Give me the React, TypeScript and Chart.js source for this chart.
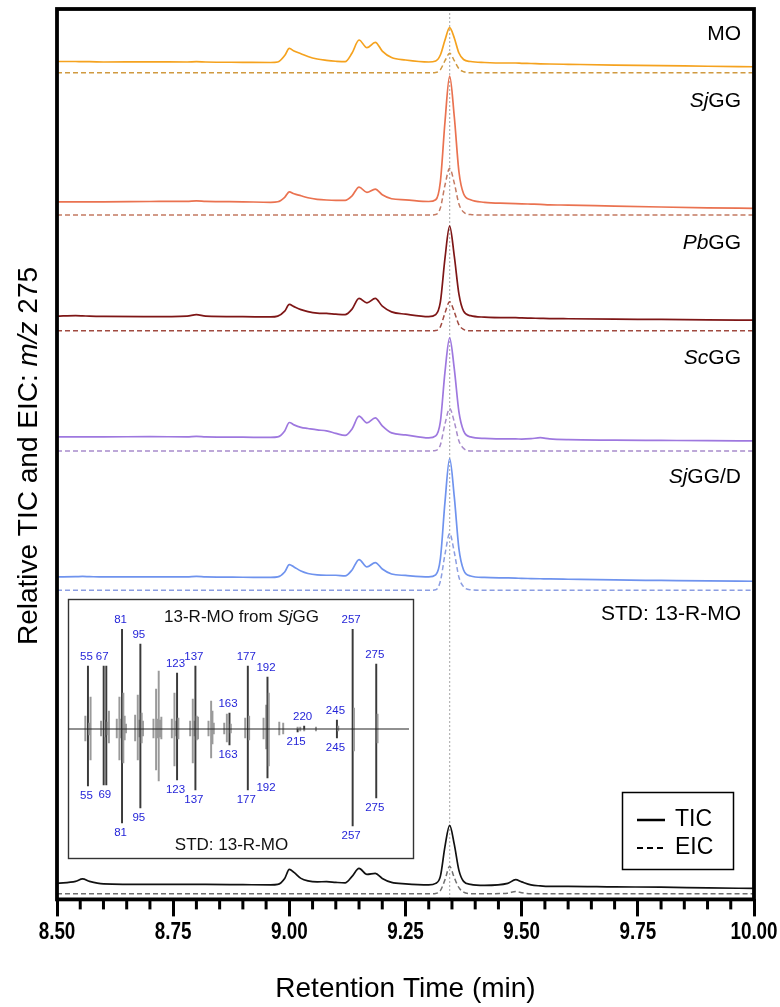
import React, { useEffect, useRef } from 'react';
import { Chart, registerables } from 'chart.js';

Chart.register(...registerables);

// ---------------- Chromatogram data ----------------
const retentionTimes = [
  8.5, 8.54, 8.555, 8.57, 8.6, 8.7, 8.78, 8.8, 8.82, 8.9, 8.96, 8.975, 8.99, 9.0, 9.01, 9.025, 9.04,
  9.06, 9.08, 9.1, 9.12, 9.135, 9.15, 9.167, 9.185, 9.2, 9.22, 9.25, 9.3, 9.315, 9.325, 9.335, 9.345,
  9.355, 9.365, 9.375, 9.39, 9.42, 9.47, 9.487, 9.5, 9.52, 9.54, 9.56, 9.6, 9.7, 9.8, 9.9, 10.0,
];
const peakRT = 9.345;

const sampleNames = ['MO', 'SjGG', 'PbGG', 'ScGG', 'SjGG/D', 'STD: 13-R-MO'];
const italicPrefixLen = [0, 2, 2, 2, 2, 0];
const ticOffsets = [837, 697.3, 583, 462.3, 322.3, 15];
const eicOffsets = [826.3, 684, 568.3, 448.3, 309, 5.7];

const ticMO = [0.5, 0.5, 0.3, 0.3, 0, 0.2, 0, 0.3, 0, -0.3, -0.5, 0, 6.5, 13.7, 11, 8.3, 5.5, 3, 1.7, 0.8, 0.3, 9, 22, 14.3, 19.7, 11, 4.5, 2, 0, 1, 7, 22, 34.3, 24, 9, 2.5, 0.5, -0.5, -1, -1, -1.3, -1.5, -1.8, -2, -2.3, -3, -3.5, -4.2, -4.7];
const eicMO = [0, 0, 0, 0, 0, 0, 0, 0, 0, 0, 0, 0, 0, 0, 0, 0, 0, 0, 0, 0, 0, 0, 0, 0, 0, 0, 0, 0, 0, 0.3, 3, 12, 19.4, 12, 4, 1, 0, 0, 0, 0, 0, 0, 0, 0, 0, 0, 0, 0, 0];
const ticSjGG = [0, 0, 0, 0, 0, 0.3, 0.5, 1, 0.5, 0, -0.5, 0, 4.5, 10, 8, 6, 4, 2.5, 1.8, 1.5, 1.5, 6, 14.7, 9.4, 12.7, 7, 3, 2, 0.3, 2, 20, 80, 125.7, 85, 30, 8, 2, -0.5, -1.5, -1.8, -2, -2.3, -2.6, -3, -3.3, -4.3, -5.2, -6, -6.6];
const eicSjGG = [0, 0, 0, 0, 0, 0, 0, 0, 0, 0, 0, 0, 0, 0, 0, 0, 0, 0, 0, 0, 0, 0, 0, 0, 0, 0, 0, 0, 0, 0.5, 7, 30, 46.7, 32, 11, 3, 0.5, 0, 0, 0, 0, 0, 0, 0, 0, 0, 0, 0, 0];
const ticPbGG = [0, 0.5, 0.3, 0, -0.3, -0.5, 0, 1.5, 0, -0.5, -0.8, 0, 5, 11.7, 9.5, 6.5, 4.5, 3, 2.7, 2, 1.5, 7, 17.7, 13.3, 17.7, 10, 4.3, 2, -0.5, 1.5, 14, 58, 90, 60, 22, 5, 0.5, -1, -1.5, -1.5, -1.8, -2, -2.2, -2.4, -2.6, -3, -3.3, -3.7, -4];
const eicPbGG = [0, 0, 0, 0, 0, 0, 0, 0, 0, 0, 0, 0, 0, 0, 0, 0, 0, 0, 0, 0, 0, 0, 0, 0, 0, 0, 0, 0, 0, 0.3, 4, 18, 29, 19, 6, 1.5, 0, 0, 0, 0, 0, 0, 0, 0, 0, 0, 0, 0, 0];
const ticScGG = [0, 0, 0, 0, 0, 0.3, 0, 0.5, 0, -0.3, -0.5, 0, 6, 14.4, 12, 9.5, 8.4, 7, 6, 3.5, 1.5, 8, 20.7, 14, 19, 11, 4, 2, -1, 1, 15, 65, 99, 68, 25, 6, 0, -1.5, -2, -2, -2.2, -1.8, -0.8, -2, -2.8, -3.2, -3.5, -3.8, -4];
const eicScGG = [0, 0, 0, 0, 0, 0, 0, 0, 0, 0, 0, 0, 0, 0, 0, 0, 0, 0, 0, 0, 0, 0, 0, 0, 0, 0, 0, 0, 0, 0.5, 6, 27, 42.4, 29, 10, 2.5, 0, 0, 0, 0, 0, 0, 0, 0, 0, 0, 0, 0, 0];
const ticSjGGD = [0, 0.3, 0.5, 0.3, 0, 0, 0, 0.5, 0, -0.3, -0.5, 0, 5, 12.4, 10, 6, 3.5, 2, 1.7, 1.7, 1, 7, 17.4, 10, 14.4, 8, 3, 1.5, 0, 2, 18, 75, 118.4, 80, 28, 7, 1, -0.5, -1, -1.2, -1.4, -1.6, -1.8, -2, -2.3, -3, -3.5, -4, -4.3];
const eicSjGGD = [0, 0, 0, 0, 0, 0, 0, 0, 0, 0, 0, 0, 0, 0, 0, 0, 0, 0, 0, 0, 0, 0, 0, 0, 0, 0, 0, 0, 0, 0.5, 9, 36, 56.7, 38, 13, 3.5, 0.5, 0, 0, 0, 0, 0, 0, 0, 0, 0, 0, 0, 0];
const ticSTD = [1, 3, 5.5, 3, 0.5, 0, 0, 0, 0, -0.3, -0.5, 0, 6, 15, 12, 6, 3.5, 2.5, 2.8, 2, 1.5, 8, 16, 10, 11, 6, 2, 0.5, -0.5, 1, 8, 38, 59, 40, 14, 3, 0, -1, 1, 4.7, 2.5, -0.5, -1.5, -2, -2, -2.5, -2.8, -3.5, -4];
const eicSTD = [0, 0, 0, 0, 0, 0, 0, 0, 0, 0, 0, 0, 0, 0, 0, 0, 0, 0, 0, 0, 0, 0, 0, 0, 0, 0, 0, 0, 0, 0.3, 3, 14, 27.3, 16, 6, 1.5, 0, 0, 0.5, 2.3, 1, 0, 0, 0, 0, 0, 0, 0, 0];

const ticSeries = [ticMO, ticSjGG, ticPbGG, ticScGG, ticSjGGD, ticSTD];
const eicSeries = [eicMO, eicSjGG, eicPbGG, eicScGG, eicSjGGD, eicSTD];

// ---------------- Mass spectrum (inset) data ----------------
const msMz = [53, 55, 56, 57, 65, 67, 68, 69, 70, 71, 77, 79, 80, 81, 82, 83, 84, 91, 93, 94, 95, 96, 97, 105, 107, 108, 109, 110, 111, 119, 121, 122, 123, 124, 133, 135, 136, 137, 138, 139, 147, 149, 150, 151, 159, 161, 163, 164, 175, 177, 178, 189, 191, 192, 193, 201, 204, 215, 217, 220, 229, 245, 246, 257, 258, 275, 276];
const msSample = [13, 63, 6, 32, 8, 63, 9, 63, 7, 18, 10, 32, 10, 100, 36, 13, 5, 14, 34, 9, 85, 16, 8, 10, 40, 10, 58, 9, 12, 10, 36, 8, 56, 11, 8, 30, 8, 63, 13, 12, 8, 28, 18, 6, 6, 15, 16, 5, 11, 63, 13, 11, 24, 52, 36, 7, 6, 2, 2, 3, 2, 9, 3, 100, 21, 65, 15];
const msStd = [12, 57, 6, 31, 7, 56, 8, 56, 6, 14, 9, 31, 9, 94, 34, 11, 4, 12, 31, 8, 79, 14, 7, 9, 41, 9, 52, 8, 10, 9, 37, 7, 51, 10, 7, 34, 7, 61, 11, 10, 7, 29, 15, 5, 5, 13, 16, 4, 9, 61, 11, 10, 20, 49, 37, 6, 5, 3, 2, 2, 2, 9, 2, 97, 22, 69, 14];
const msTopLabels = [55, 67, 81, 95, 123, 137, 163, 177, 192, 220, 245, 257, 275];
const msBottomLabels = [55, 69, 81, 95, 123, 137, 163, 177, 192, 215, 245, 257, 275];

// ---------------- Styles ----------------
const FONT = '"Liberation Sans", Arial, Helvetica, sans-serif';
const ticColors = ['#F5A21E', '#EA7250', '#7E1616', '#9E78DF', '#6F93EE', '#111111'];
const eicColors = ['#D09A40', '#C47A62', '#A04A40', '#A88CCB', '#8C9EE2', '#707070'];
const labelY = [34, 101, 243, 358, 477, 614];
const labelRight = 741;

type Seg = { text: string; italic?: boolean };

function drawRich(ctx: CanvasRenderingContext2D, segs: Seg[], x: number, y: number, size: number, family: string, align: 'left' | 'center' | 'right') {
  const fontFor = (s: Seg) => `${s.italic ? 'italic ' : ''}normal ${size}px ${family}`;
  let total = 0;
  const widths = segs.map((s) => {
    ctx.font = fontFor(s);
    const w = ctx.measureText(s.text).width;
    total += w;
    return w;
  });
  let cx = align === 'left' ? x : align === 'center' ? x - total / 2 : x - total;
  ctx.textAlign = 'left';
  ctx.textBaseline = 'middle';
  segs.forEach((s, i) => {
    ctx.font = fontFor(s);
    ctx.fillText(s.text, cx, y);
    cx += widths[i];
  });
}

const isMajor = (v: number) => Math.abs(v * 4 - Math.round(v * 4)) < 1e-6;

const mainDecor = {
  id: 'mainDecor',
  beforeDatasetsDraw(chart: any) {
    const { ctx, chartArea, scales } = chart;
    const x = scales.x.getPixelForValue(peakRT);
    ctx.save();
    ctx.strokeStyle = '#b5b5b5';
    ctx.lineWidth = 1.2;
    ctx.setLineDash([2, 2]);
    ctx.beginPath();
    ctx.moveTo(x, chartArea.top);
    ctx.lineTo(x, chartArea.bottom);
    ctx.stroke();
    ctx.restore();
  },
  afterDraw(chart: any) {
    const { ctx, chartArea, scales } = chart;
    const { left, right, top, bottom } = chartArea;
    ctx.save();
    // minor ticks + condensed bold tick labels
    ctx.strokeStyle = '#000';
    ctx.fillStyle = '#000';
    ctx.lineWidth = 3;
    scales.x.ticks.forEach((t: any) => {
      const x = scales.x.getPixelForValue(t.value);
      if (isMajor(t.value)) {
        ctx.save();
        ctx.translate(x, 933);
        ctx.scale(0.82, 1);
        ctx.font = `bold 23px ${FONT}`;
        ctx.textAlign = 'center';
        ctx.textBaseline = 'middle';
        ctx.fillText(Number(t.value).toFixed(2), 0, 0);
        ctx.restore();
        return;
      }
      ctx.beginPath();
      ctx.moveTo(x, bottom);
      ctx.lineTo(x, bottom + 10);
      ctx.stroke();
    });
    // frame
    ctx.lineWidth = 3.8;
    ctx.strokeRect(left, top, right - left, bottom - top);

    // sample labels
    ctx.fillStyle = '#000';
    sampleNames.forEach((name, i) => {
      const n = italicPrefixLen[i];
      const segs: Seg[] = n > 0 ? [{ text: name.slice(0, n), italic: true }, { text: name.slice(n) }] : [{ text: name }];
      drawRich(ctx, segs, labelRight, labelY[i], 21, FONT, 'right');
    });

    // y title
    ctx.save();
    ctx.translate(29, 456);
    ctx.rotate(-Math.PI / 2);
    drawRich(ctx, [{ text: 'Relative TIC and EIC: ' }, { text: 'm/z', italic: true }, { text: ' 275' }], 0, 0, 28, FONT, 'center');
    ctx.restore();

    // legend
    ctx.lineWidth = 1.5;
    ctx.strokeStyle = '#000';
    ctx.setLineDash([]);
    ctx.strokeRect(622.5, 792.5, 111, 77);
    ctx.lineWidth = 2.5;
    ctx.beginPath();
    ctx.moveTo(637, 820);
    ctx.lineTo(665, 820);
    ctx.stroke();
    ctx.setLineDash([6, 4]);
    ctx.lineWidth = 2;
    ctx.beginPath();
    ctx.moveTo(637, 848);
    ctx.lineTo(665, 848);
    ctx.stroke();
    ctx.setLineDash([]);
    drawRich(ctx, [{ text: 'TIC' }], 675, 820, 23, FONT, 'left');
    drawRich(ctx, [{ text: 'EIC' }], 675, 848, 23, FONT, 'left');
    ctx.restore();
  },
};

const insetDecor = {
  id: 'insetDecor',
  beforeDraw(chart: any) {
    const { ctx, width, height } = chart;
    ctx.save();
    ctx.fillStyle = '#fff';
    ctx.fillRect(0, 0, width, height);
    ctx.restore();
  },
  afterDatasetsDraw(chart: any) {
    const { ctx, chartArea, scales, width, height } = chart;
    const xs = scales.x;
    const ys = scales.y;
    ctx.save();
    ctx.strokeStyle = '#333';
    ctx.lineWidth = 1.4;
    ctx.strokeRect(1.5, 1.5, width - 3, height - 3);
    // baseline
    const y0 = ys.getPixelForValue(0);
    ctx.strokeStyle = '#222';
    ctx.lineWidth = 1.2;
    ctx.beginPath();
    ctx.moveTo(chartArea.left, y0);
    ctx.lineTo(chartArea.right, y0);
    ctx.stroke();
    // labels
    ctx.fillStyle = '#2424d8';
    ctx.font = `normal 11.5px ${FONT}`;
    ctx.textAlign = 'center';
    ctx.textBaseline = 'middle';
    msTopLabels.forEach((m) => {
      const i = msMz.indexOf(m);
      const x = xs.getPixelForValue(m) - 1.5;
      const y = ys.getPixelForValue(msSample[i]) - 9.5;
      ctx.fillText(String(m), x, y);
    });
    msBottomLabels.forEach((m) => {
      const i = msMz.indexOf(m);
      const x = xs.getPixelForValue(m) - 1.5;
      const y = ys.getPixelForValue(-msStd[i]) + 9.5;
      ctx.fillText(String(m), x, y);
    });
    ctx.fillStyle = '#111';
    drawRich(ctx, [{ text: '13-R-MO from ' }, { text: 'Sj', italic: true }, { text: 'GG' }], 174.5, 19, 17, FONT, 'center');
    drawRich(ctx, [{ text: 'STD: 13-R-MO' }], 164.5, 247, 17, FONT, 'center');
    ctx.restore();
  },
};

export default function App() {
  const mainRef = useRef<HTMLCanvasElement>(null);
  const insetRef = useRef<HTMLCanvasElement>(null);

  useEffect(() => {
    const datasets: any[] = [];
    sampleNames.forEach((_, s) => {
      datasets.push({
        label: sampleNames[s] + ' TIC',
        data: retentionTimes.map((t, i) => ({ x: t, y: ticOffsets[s] + ticSeries[s][i] })),
        borderColor: ticColors[s],
        borderWidth: 1.7,
        pointRadius: 0,
        cubicInterpolationMode: 'monotone',
        fill: false,
      });
      datasets.push({
        label: sampleNames[s] + ' EIC',
        data: retentionTimes.map((t, i) => ({ x: t, y: eicOffsets[s] + eicSeries[s][i] })),
        borderColor: eicColors[s],
        borderWidth: 1.5,
        borderDash: [5, 3],
        pointRadius: 0,
        cubicInterpolationMode: 'monotone',
        fill: false,
      });
    });

    const main = new Chart(mainRef.current!, {
      type: 'line',
      data: { datasets },
      options: {
        responsive: false,
        animation: false,
        devicePixelRatio: 1,
        layout: { padding: { left: 57, right: 26, top: 9, bottom: 0 } },
        plugins: { legend: { display: false }, tooltip: { enabled: false } },
        scales: {
          x: {
            type: 'linear',
            min: 8.5,
            max: 10,
            ticks: {
              display: false,
              stepSize: 0.05,
              autoSkip: false,
              maxRotation: 0,
              minRotation: 0,
            },
            grid: {
              display: true,
              drawOnChartArea: false,
              drawTicks: true,
              tickLength: 17,
              tickWidth: 3,
              tickColor: (c: any) => (c.tick && isMajor(c.tick.value) ? '#000' : 'rgba(0,0,0,0)'),
            },
            border: { display: false },
            title: {
              display: true,
              text: 'Retention Time (min)',
              color: '#000',
              font: { family: FONT, size: 28 },
              padding: { top: 56, bottom: 1 },
            },
          },
          y: { display: false, min: 0, max: 890 },
        },
      } as any,
      plugins: [mainDecor],
    });

    const barColor = (m: number, list: number[]) => (list.includes(m) || m === 67 || m === 69 ? '#3a3a3a' : '#9a9a9a');
    const inset = new Chart(insetRef.current!, {
      type: 'bar',
      data: {
        datasets: [
          {
            label: 'sample',
            data: msMz.map((m, i) => ({ x: m, y: msSample[i] })),
            backgroundColor: msMz.map((m) => barColor(m, msTopLabels)),
            barThickness: 1.3,
            grouped: false,
          },
          {
            label: 'std',
            data: msMz.map((m, i) => ({ x: m, y: -msStd[i] })),
            backgroundColor: msMz.map((m) => barColor(m, msBottomLabels)),
            barThickness: 1.3,
            grouped: false,
          },
        ],
      } as any,
      options: {
        responsive: false,
        animation: false,
        devicePixelRatio: 1,
        layout: { padding: { left: 1.3, right: 6, top: 31, bottom: 31 } },
        plugins: { legend: { display: false }, tooltip: { enabled: false } },
        scales: {
          x: { type: 'linear', min: 40, max: 300, display: false, offset: false, grid: { offset: false } },
          y: { min: -100, max: 100, display: false },
        },
      } as any,
      plugins: [insetDecor],
    });

    return () => {
      main.destroy();
      inset.destroy();
    };
  }, []);

  return (
    <div style={{ position: 'absolute', left: 0, top: 0, width: 780, height: 1007, background: '#fff', overflow: 'hidden' }}>
      <canvas ref={mainRef} width={780} height={1007} style={{ position: 'absolute', left: 0, top: 0 }} />
      <canvas ref={insetRef} width={348} height={262} style={{ position: 'absolute', left: 67, top: 598 }} />
    </div>
  );
}
